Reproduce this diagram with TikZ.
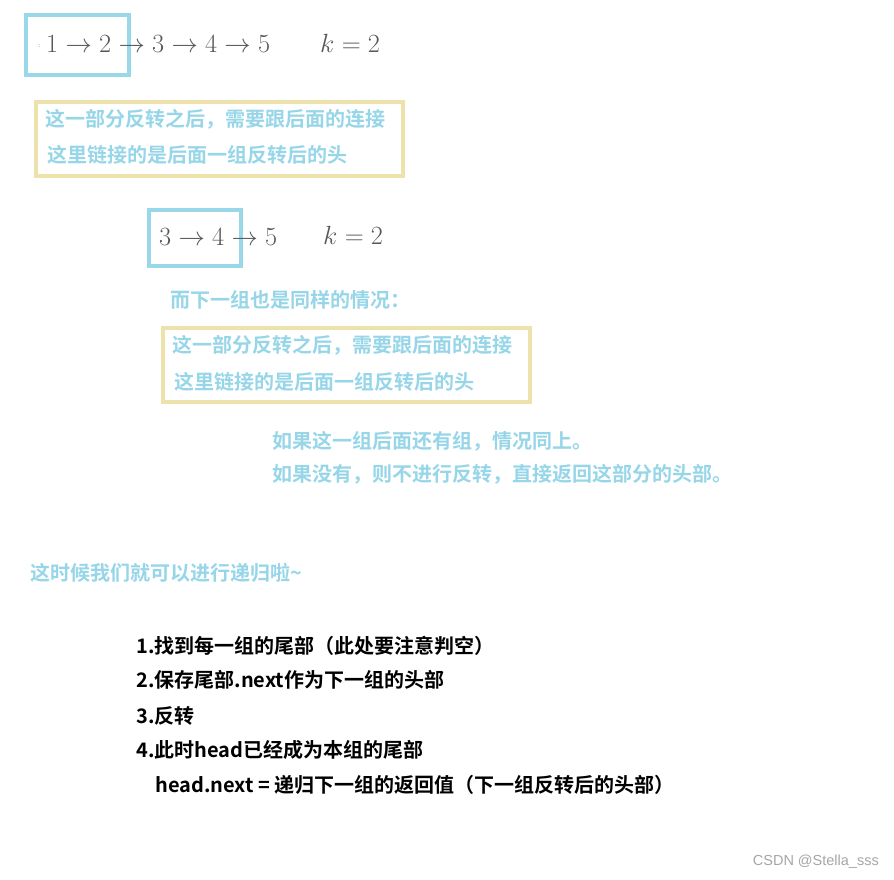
\RequirePackage{fix-cm}
\documentclass[tikz,border=0pt]{standalone}
\usepackage{fontspec}
\newfontfamily\cjk[BoldFont={Noto Sans CJK SC Bold}]{Noto Sans CJK SC}
\newfontfamily\wmfont{Liberation Sans}
\definecolor{notebox}{RGB}{152,216,233}
\definecolor{notetxt}{RGB}{150,214,232}
\definecolor{groupbox}{RGB}{237,225,172}
\definecolor{mathgray}{RGB}{88,88,88}
\begin{document}
\begin{tikzpicture}[x=1pt,y=-1pt,
    listtxt/.style={anchor=west, inner sep=0pt, text=mathgray, font=\fontsize{26.3}{31}\selectfont},
    note/.style={anchor=west, inner sep=0pt, text=notetxt, font=\cjk\bfseries\fontsize{20}{24}\selectfont},
    step txt/.style={anchor=west, inner sep=0pt, text=black, font=\cjk\bfseries\fontsize{20}{24}\selectfont},
    kbox/.style={draw=notebox, line width=4pt},
    gbox/.style={draw=groupbox, line width=4pt}]
  \useasboundingbox[fill=white] (0,0) rectangle (894,879);
  % first list
  \draw[kbox] (26,15) rectangle (129,75);
  \node[anchor=west, inner sep=0pt, text=mathgray, font=\scriptsize] (dot) at (38,46) {:};
  \node[listtxt] (listA) at (46,44) {$1\to2\to3\to4\to5$};
  \node[listtxt] (kA) at (320,43) {$k=2$};
  \draw[gbox] (36,102) rectangle (403,176);
  \node[note] (noteA1) at (45,119) {这一部分反转之后，需要跟后面的连接};
  \node[note] (noteA2) at (47,155) {这里链接的是后面一组反转后的头};
  % second list
  \draw[kbox] (149,210) rectangle (241,266);
  \node[listtxt] (listB) at (159,237) {$3\to4\to5$};
  \node[listtxt] (kB) at (323,235) {$k=2$};
  \node[note] (same) at (170,300) {而下一组也是同样的情况：};
  \draw[gbox] (163,328) rectangle (530,402);
  \node[note] (noteB1) at (172,345) {这一部分反转之后，需要跟后面的连接};
  \node[note] (noteB2) at (174,382) {这里链接的是后面一组反转后的头};
  \node[note] (more) at (272,441) {如果这一组后面还有组，情况同上。};
  \node[note] (none) at (272,474) {如果没有，则不进行反转，直接返回这部分的头部。};
  \node[note] (recur) at (30,573) {这时候我们就可以进行递归啦\textasciitilde};
  % steps
  \node[step txt] (s1) at (136,646) {1.找到每一组的尾部（此处要注意判空）};
  \node[step txt] (s2) at (136,680) {2.保存尾部.next作为下一组的头部};
  \node[step txt] (s3) at (136,716) {3.反转};
  \node[step txt] (s4) at (136,750) {4.此时head已经成为本组的尾部};
  \node[step txt] (s5) at (155,785) {head.next = 递归下一组的返回值（下一组反转后的头部）};
  \node[anchor=east, inner sep=0pt, text=black!35, font=\wmfont\fontsize{14.5}{17}\selectfont] (mark) at (879,862) {CSDN @Stella\_sss};
\end{tikzpicture}
\end{document}
